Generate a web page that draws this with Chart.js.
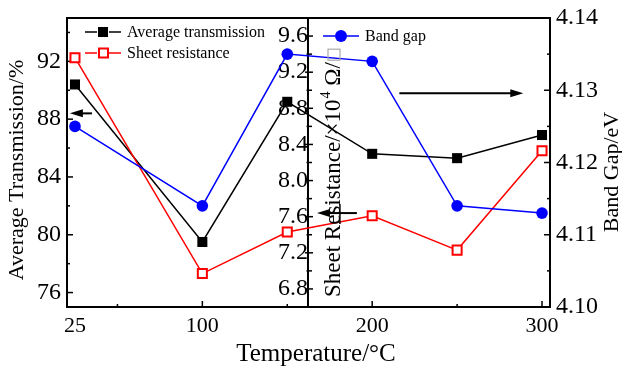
<!DOCTYPE html>
<html lang="en">
<head>
  <meta charset="UTF-8">
  <title>Transmission, sheet resistance and band gap vs temperature</title>
  <script src="https://cdn.jsdelivr.net/npm/chart.js"></script>
  <style>
    body { margin: 0; background: #fff; }
    #wrap { width: 622px; height: 367px; }
  </style>
</head>
<body>
  <div id="wrap"><canvas id="chart" width="622" height="367"></canvas></div>
  <script>
    // values
    const temps = [25, 100, 150, 200, 250, 300];
    const transmission = [90.4, 79.5, 89.2, 85.6, 85.3, 86.9];
    const sheetRes = [9.36, 6.97, 7.43, 7.61, 7.23, 8.33];
    const bandGap = [4.125, 4.114, 4.135, 4.134, 4.114, 4.113];

    const xTicks = [25, 100, 200, 300];
    const xMinor = [50, 150, 250];
    const transTicks = [76, 80, 84, 88, 92];
    const transMinor = [78, 82, 86, 90, 94];
    const resTicks = [6.8, 7.2, 7.6, 8.0, 8.4, 8.8, 9.2, 9.6];
    const resMinor = [7.0, 7.4, 7.8, 8.2, 8.6, 9.0, 9.4];
    const gapTicks = [4.10, 4.11, 4.12, 4.13, 4.14];
    const gapMinor = [4.105, 4.115, 4.125, 4.135];

    const resAxisAt = 162.2; // the sheet resistance axis sits inside the plot

    const serif = 'Liberation Serif';

    function fixTicks(list) {
      return scale => { scale.ticks = list.map(v => ({ value: v })); };
    }

    // pin the axis box so the plot area lands where the original has it
    function pinY(width) {
      return s => {
        if (width !== null) s.width = width;
        s.paddingTop = 0;
        s.paddingBottom = 0;
      };
    }

    function line(ctx, x1, y1, x2, y2) {
      ctx.beginPath();
      ctx.moveTo(x1, y1);
      ctx.lineTo(x2, y2);
      ctx.stroke();
    }

    function arrow(ctx, x1, x2, y) {
      const dir = Math.sign(x2 - x1);
      ctx.lineWidth = 2;
      line(ctx, x1, y, x2 - dir * 10, y);
      ctx.beginPath();
      ctx.moveTo(x2, y);
      ctx.lineTo(x2 - dir * 13, y - 4);
      ctx.lineTo(x2 - dir * 13, y + 4);
      ctx.closePath();
      ctx.fill();
    }

    function legendItem(ctx, x, y, color, kind, text) {
      ctx.strokeStyle = color;
      ctx.lineWidth = 1.5;
      line(ctx, x, y, x + 12, y);
      line(ctx, x + 24, y, x + 36, y);
      if (kind === 'filled') {
        ctx.fillStyle = color;
        ctx.fillRect(x + 13, y - 5, 10, 10);
      } else if (kind === 'open') {
        ctx.lineWidth = 2;
        ctx.fillStyle = '#fff';
        ctx.fillRect(x + 14, y - 4.5, 9, 9);
        ctx.strokeRect(x + 14, y - 4.5, 9, 9);
      } else {
        ctx.fillStyle = color;
        ctx.beginPath();
        ctx.arc(x + 18, y, 6, 0, Math.PI * 2);
        ctx.fill();
      }
      ctx.fillStyle = '#000';
      ctx.font = '16px ' + serif;
      ctx.textAlign = 'left';
      ctx.textBaseline = 'middle';
      ctx.fillText(text, x + 42, y + 1);
    }

    function vText(ctx, text, x, y, font, align) {
      ctx.save();
      ctx.translate(x, y);
      ctx.rotate(-Math.PI / 2);
      ctx.font = font;
      ctx.textAlign = align;
      ctx.textBaseline = 'middle';
      ctx.fillText(text, 0, 0);
      ctx.restore();
    }

    const decor = {
      id: 'decor',
      beforeDatasetsDraw(chart) {
        const { ctx, chartArea: a, scales } = chart;
        const { x, y, yR, yG } = scales;
        ctx.save();
        ctx.strokeStyle = '#000';
        ctx.lineWidth = 2;
        ctx.strokeRect(a.left, a.top, a.right - a.left, a.bottom - a.top);
        const mx = x.getPixelForValue(resAxisAt);
        line(ctx, mx, a.top, mx, a.bottom);

        ctx.lineWidth = 1.5;
        // bottom ticks point inward; no mark under the 25 label
        xTicks.slice(1).forEach(v => { const p = x.getPixelForValue(v); line(ctx, p, a.bottom, p, a.bottom - 6); });
        xMinor.forEach(v => { const p = x.getPixelForValue(v); line(ctx, p, a.bottom, p, a.bottom - 3); });
        transTicks.forEach(v => { const p = y.getPixelForValue(v); line(ctx, a.left, p, a.left + 6, p); });
        transMinor.forEach(v => { const p = y.getPixelForValue(v); line(ctx, a.left, p, a.left + 3, p); });
        gapTicks.forEach(v => { const p = yG.getPixelForValue(v); line(ctx, a.right, p, a.right - 6, p); });
        gapMinor.forEach(v => { const p = yG.getPixelForValue(v); line(ctx, a.right, p, a.right - 3, p); });
        resTicks.forEach(v => { const p = yR.getPixelForValue(v); line(ctx, mx - 3, p, mx + 5, p); });
        resMinor.forEach(v => { const p = yR.getPixelForValue(v); line(ctx, mx - 1.5, p, mx + 4, p); });
        ctx.restore();
      },
      afterDraw(chart) {
        const { ctx, scales } = chart;
        const { x, y, yR, yG } = scales;
        ctx.save();
        ctx.fillStyle = '#000';
        ctx.strokeStyle = '#000';

        // axis titles
        vText(ctx, 'Average Transmission/%', 17, 170, '22px ' + serif, 'center');
        vText(ctx, 'Band Gap/eV', 612, 172, '22px ' + serif, 'center');
        ctx.font = '25px ' + serif;
        ctx.textAlign = 'center';
        ctx.textBaseline = 'middle';
        ctx.fillText('Temperature/°C', 316, 354);

        // sheet resistance title, written up the inner axis
        ctx.save();
        ctx.translate(334, 297);
        ctx.rotate(-Math.PI / 2);
        ctx.textAlign = 'left';
        ctx.textBaseline = 'middle';
        ctx.font = '23px ' + serif;
        let t = 'Sheet Resistance/×10';
        ctx.fillText(t, 0, 0);
        let w = ctx.measureText(t).width;
        ctx.font = '14px ' + serif;
        ctx.fillText('4', w + 1, -8);
        w += ctx.measureText('4').width + 1;
        ctx.font = '23px ' + serif;
        t = ' Ω/';
        ctx.fillText(t, w, 0);
        w += ctx.measureText(t).width;
        ctx.strokeStyle = '#aaa';
        ctx.lineWidth = 1.2;
        ctx.strokeRect(w + 2, -6, 11, 12);
        ctx.restore();

        // legends
        legendItem(ctx, 85, 32, '#000', 'filled', 'Average transmission');
        legendItem(ctx, 85, 53, '#ff0000', 'open', 'Sheet resistance');
        legendItem(ctx, 323, 36, '#0000ff', 'circle', 'Band gap');

        // arrows pointing to each series' axis
        ctx.strokeStyle = '#000';
        ctx.fillStyle = '#000';
        arrow(ctx, x.getPixelForValue(35), x.getPixelForValue(22), y.getPixelForValue(88.4));
        const ry = yR.getPixelForValue(7.64);
        arrow(ctx, x.getPixelForValue(191), x.getPixelForValue(167.5), ry);
        ctx.lineWidth = 1.5;
        const bx = x.getPixelForValue(181);
        line(ctx, bx, ry - 9, bx, ry + 11);
        arrow(ctx, x.getPixelForValue(216), x.getPixelForValue(289), yG.getPixelForValue(4.1296));
        ctx.restore();
      }
    };

    const pts = vals => temps.map((t, i) => ({ x: t, y: vals[i] }));

    new Chart(document.getElementById('chart'), {
      type: 'line',
      data: {
        datasets: [
          {
            label: 'Band gap',
            data: pts(bandGap),
            yAxisID: 'yG',
            borderColor: '#0000ff',
            backgroundColor: '#0000ff',
            borderWidth: 1.5,
            pointStyle: 'circle',
            pointRadius: 5.8,
            pointBorderWidth: 0
          },
          {
            label: 'Sheet resistance',
            data: pts(sheetRes),
            yAxisID: 'yR',
            borderColor: '#ff0000',
            backgroundColor: '#fff',
            borderWidth: 1.5,
            pointStyle: 'rect',
            pointRadius: 6.4,
            pointBorderWidth: 2
          },
          {
            label: 'Average transmission',
            data: pts(transmission),
            yAxisID: 'y',
            borderColor: '#000',
            backgroundColor: '#000',
            borderWidth: 1.5,
            pointStyle: 'rect',
            pointRadius: 7.1,
            pointBorderWidth: 0
          }
        ]
      },
      options: {
        responsive: false,
        animation: false,
        layout: { padding: { top: 18 } },
        plugins: {
          legend: { display: false },
          tooltip: { enabled: false }
        },
        scales: {
          x: {
            type: 'linear',
            position: 'bottom',
            min: 20.3,
            max: 304.7,
            afterBuildTicks: fixTicks(xTicks),
            afterFit: s => { s.height = 60; s.paddingLeft = 0; s.paddingRight = 0; },
            grid: { display: false, drawTicks: false },
            border: { display: false },
            ticks: {
              color: '#000',
              font: { family: serif, size: 22 },
              padding: 6,
              maxRotation: 0,
              autoSkip: false,
              callback: v => String(v)
            }
          },
          y: {
            position: 'left',
            min: 75,
            max: 95,
            afterBuildTicks: fixTicks(transTicks),
            afterFit: pinY(67),
            grid: { display: false, drawTicks: false },
            border: { display: false },
            ticks: {
              color: '#000',
              font: { family: serif, size: 24 },
              padding: 6,
              callback: v => String(v)
            }
          },
          yR: {
            position: { x: resAxisAt },
            min: 6.6,
            max: 9.8,
            afterBuildTicks: fixTicks(resTicks),
            afterFit: pinY(null),
            grid: { display: false, drawTicks: false },
            border: { display: false },
            ticks: {
              color: '#000',
              font: { family: serif, size: 24 },
              padding: 11,
              callback: v => v.toFixed(1)
            }
          },
          yG: {
            position: 'right',
            min: 4.10,
            max: 4.14,
            afterBuildTicks: fixTicks(gapTicks),
            afterFit: pinY(72),
            grid: { display: false, drawTicks: false },
            border: { display: false },
            ticks: {
              color: '#000',
              font: { family: serif, size: 24 },
              padding: 6,
              callback: v => v.toFixed(2)
            }
          }
        }
      },
      plugins: [decor]
    });
  </script>
</body>
</html>
